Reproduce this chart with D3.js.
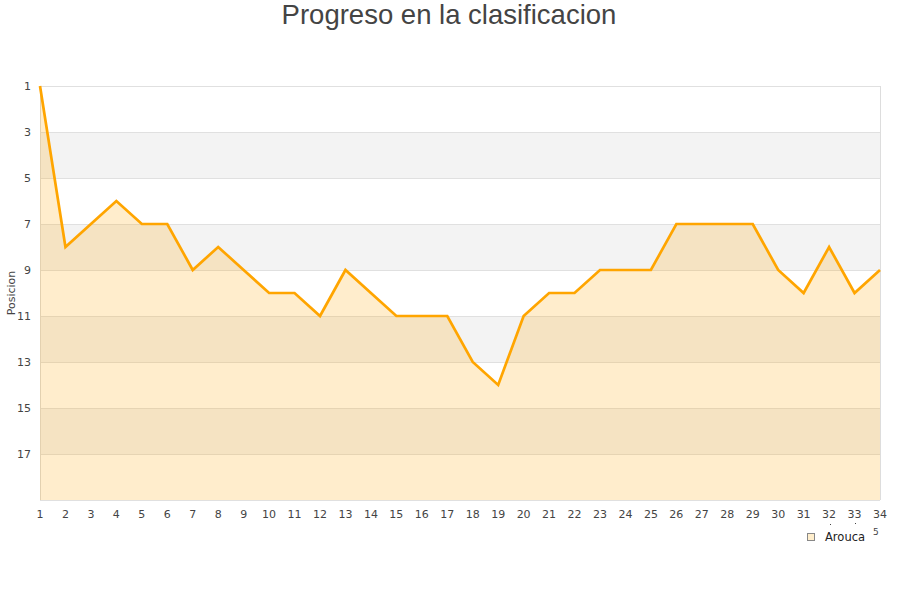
<!DOCTYPE html>
<html><head><meta charset="utf-8">
<script src="https://cdn.jsdelivr.net/npm/d3@7"></script>
<style>body{margin:0;background:#fff}svg{display:block}</style>
</head><body>
<svg id="c" width="900" height="600"></svg>
<script>
const jornadas = d3.range(1, 35);
const posiciones = [1,8,7,6,7,7,9,8,9,10,10,11,9,10,11,11,11,13,14,11,10,10,9,9,9,7,7,7,7,9,10,8,10,9];
const yTicks = [1,3,5,7,9,11,13,15,17];
const bands = [[3,5],[7,9],[11,13],[15,17]];
const seriesName = "Arouca";

const svg = d3.select("#c");
const x = d3.scaleLinear().domain([1,34]).range([40,880]);
const y = d3.scaleLinear().domain([1,19]).range([86,500]);

// bands
svg.append("g").selectAll("rect").data(bands).join("rect")
  .attr("x", x(1)).attr("width", x(34)-x(1))
  .attr("y", d=>y(d[0])).attr("height", d=>y(d[1])-y(d[0]))
  .attr("fill", "#f3f3f3");

// grid lines
svg.append("g").selectAll("line").data(yTicks.concat([19])).join("line")
  .attr("x1", x(1)).attr("x2", x(34))
  .attr("y1", d=>y(d)+0.5).attr("y2", d=>y(d)+0.5)
  .attr("stroke", "#e0e0e0").attr("stroke-width", 1);

// frame sides
svg.append("line").attr("x1", x(1)+0.5).attr("x2", x(1)+0.5).attr("y1", y(1)).attr("y2", y(19))
  .attr("stroke", "#ddd");
svg.append("line").attr("x1", x(34)+0.5).attr("x2", x(34)+0.5).attr("y1", y(1)).attr("y2", y(19))
  .attr("stroke", "#ddd");

const data = jornadas.map((j,i)=>({j, p:posiciones[i]}));

svg.append("path").datum(data)
  .attr("d", d3.area().x(d=>x(d.j)).y0(y(19)).y1(d=>y(d.p)))
  .attr("fill", "#ffa500").attr("fill-opacity", 0.2);

svg.append("path").datum(data)
  .attr("d", d3.line().x(d=>x(d.j)).y(d=>y(d.p)))
  .attr("fill", "none").attr("stroke", "#ffa500").attr("stroke-width", 2.7)
  .attr("stroke-linejoin", "miter");

// y ticks
svg.append("g").selectAll("text").data(yTicks).join("text")
  .attr("x", 31).attr("y", d=>y(d)+4)
  .attr("text-anchor", "end")
  .attr("font-family", "DejaVu Sans").attr("font-size", 11).attr("fill", "#444")
  .text(d=>d);

// x ticks
svg.append("g").selectAll("text").data(jornadas).join("text")
  .attr("x", d=>x(d)).attr("y", 518)
  .attr("text-anchor", "middle")
  .attr("font-family", "DejaVu Sans").attr("font-size", 11).attr("fill", "#444")
  .text(d=>d);

// y label
svg.append("text")
  .attr("transform", "translate(15,293) rotate(-90)")
  .attr("text-anchor", "middle")
  .attr("font-family", "DejaVu Sans").attr("font-size", 11).attr("fill", "#444")
  .text("Posicion");

// title
svg.append("text").attr("x", 449).attr("y", 24)
  .attr("text-anchor", "middle")
  .attr("font-family", "Liberation Sans").attr("font-size", 27.5).attr("fill", "#444")
  .text("Progreso en la clasificacion");

// legend
svg.append("rect").attr("x", 807.5).attr("y", 533.5).attr("width", 7).attr("height", 7)
  .attr("fill", "#ffeecc").attr("stroke", "#888");
svg.append("text").attr("x", 825).attr("y", 541)
  .attr("font-family", "DejaVu Sans").attr("font-size", 11.5).attr("fill", "#222")
  .text(seriesName);
svg.append("text").attr("x", 873).attr("y", 535)
  .attr("font-family", "DejaVu Sans").attr("font-size", 9).attr("fill", "#444")
  .text("5");
svg.append("rect").attr("x", 830).attr("y", 524).attr("width", 1).attr("height", 1).attr("fill", "#444");
svg.append("rect").attr("x", 855).attr("y", 523).attr("width", 1).attr("height", 1).attr("fill", "#444");
</script>
</body></html>
